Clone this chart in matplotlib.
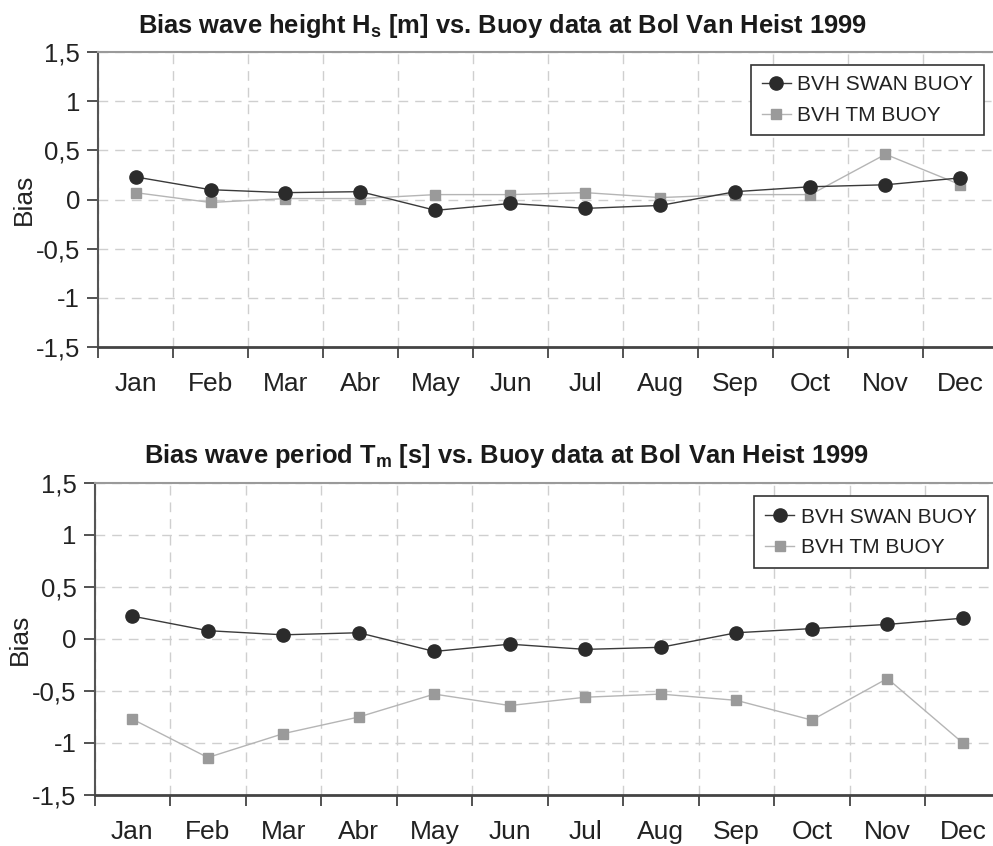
import matplotlib.pyplot as plt
from matplotlib.ticker import FixedLocator, FuncFormatter

plt.rcParams['font.family'] = ['Liberation Sans', 'DejaVu Sans']

months = ['Jan', 'Feb', 'Mar', 'Abr', 'May', 'Jun', 'Jul', 'Aug', 'Sep', 'Oct', 'Nov', 'Dec']

# bias of significant wave height Hs [m]
hs_swan = [0.23, 0.10, 0.07, 0.08, -0.11, -0.04, -0.09, -0.06, 0.08, 0.13, 0.15, 0.22]
hs_tm = [0.07, -0.03, 0.01, 0.01, 0.05, 0.05, 0.07, 0.02, 0.05, 0.05, 0.46, 0.15]

# bias of mean wave period Tm [s]
tm_swan = [0.22, 0.08, 0.04, 0.06, -0.12, -0.05, -0.10, -0.08, 0.06, 0.10, 0.14, 0.20]
tm_tm = [-0.77, -1.14, -0.91, -0.75, -0.53, -0.64, -0.56, -0.53, -0.59, -0.78, -0.38, -1.00]

yticks = [-1.5, -1, -0.5, 0, 0.5, 1, 1.5]


def comma(v, pos):
    return ('%g' % v).replace('.', ',')


def draw_panel(ax, swan, tm, title, title_x, title_pad, leg_anchor, leg_pad):
    x = list(range(len(months)))
    ax.plot(x, swan, color='#3a3a3a', lw=1.0, marker='o', ms=9.5,
            mfc='#2b2b2b', mec='#2b2b2b', label='BVH SWAN BUOY', zorder=4)
    ax.plot(x, tm, color='#b5b5b5', lw=1.0, marker='s', ms=7.5,
            mfc='#9a9a9a', mec='#9a9a9a', label='BVH TM BUOY', zorder=3)

    ax.set_xlim(-0.5, len(months) - 0.5)
    ax.set_ylim(-1.5, 1.5)
    # month boundaries carry the ticks and vertical grid, names sit in between
    ax.xaxis.set_major_locator(FixedLocator([i - 0.5 for i in range(len(months))]))
    ax.xaxis.set_major_formatter(FuncFormatter(lambda v, p: ''))
    ax.set_xticks(x, months, minor=True)
    ax.tick_params(axis='x', which='major', length=8, width=1.3, color='#444444', direction='out')
    ax.tick_params(axis='x', which='minor', length=0, pad=18, labelsize=19, labelcolor='#222222')
    ax.set_yticks(yticks)
    ax.yaxis.set_major_formatter(FuncFormatter(comma))
    ax.tick_params(axis='y', length=8, width=1.3, color='#444444', direction='out',
                   pad=5, labelsize=18.5, labelcolor='#222222')

    ax.grid(True, which='major', color='#cfcfcf', lw=1.0, ls=(0, (7, 5)))
    ax.set_axisbelow(True)

    ax.spines['right'].set_visible(False)
    ax.spines['top'].set_color('#9a9a9a')
    ax.spines['top'].set_linewidth(1.5)
    ax.spines['left'].set_color('#555555')
    ax.spines['left'].set_linewidth(1.5)
    ax.spines['bottom'].set_color('#444444')
    ax.spines['bottom'].set_linewidth(2.0)

    ax.set_ylabel('Bias', fontsize=19, color='#222222', labelpad=0)
    ax.set_title(title, fontsize=18.4, fontweight='bold', color='#1a1a1a',
                 pad=title_pad, x=title_x)
    leg = ax.legend(loc='upper right', bbox_to_anchor=leg_anchor, fontsize=15,
                    frameon=True, fancybox=False, framealpha=1, edgecolor='#333333',
                    handlelength=1.4, handletextpad=0.3, borderpad=leg_pad,
                    labelspacing=0.55, borderaxespad=0)
    leg.get_frame().set_linewidth(1.2)
    for t in leg.get_texts():
        t.set_color('#222222')


fig = plt.figure(figsize=(9.93, 8.46), dpi=100)
ax1 = fig.add_axes([0.0987, 0.5898, 0.9063, 0.3487])
ax2 = fig.add_axes([0.0952, 0.0603, 0.9125, 0.3688])

draw_panel(ax1, hs_swan, hs_tm,
           r'Bias wave height H$_\mathregular{s}$ [m] vs. Buoy data at Bol Van Heist 1999',
           0.449, 13.5, (0.984, 0.956), 0.5)
draw_panel(ax2, tm_swan, tm_tm,
           r'Bias wave period T$_\mathregular{m}$ [s] vs. Buoy data at Bol Van Heist 1999',
           0.455, 14.5, (0.986, 0.958), 0.55)

fig.savefig('out.png', dpi=100)
